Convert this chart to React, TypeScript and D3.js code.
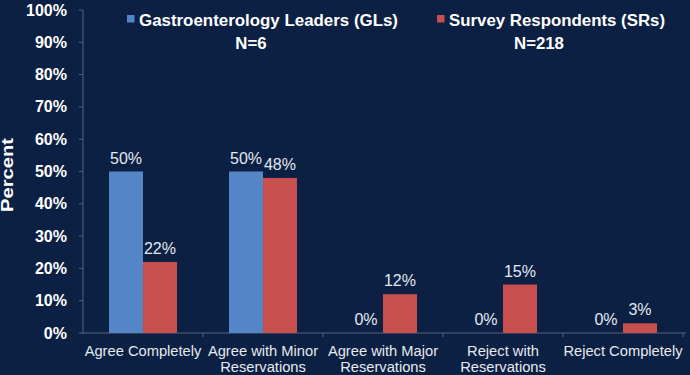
import React from "react";
import * as d3 from "d3";

const categories: string[][] = [
  ["Agree Completely"],
  ["Agree with Minor", "Reservations"],
  ["Agree with Major", "Reservations"],
  ["Reject with", "Reservations"],
  ["Reject Completely"],
];
const seriesNames = ["Gastroenterology Leaders (GLs)", "Survey Respondents (SRs)"];
const seriesN = ["N=6", "N=218"];
const glValues = [50, 50, 0, 0, 0];
const srValues = [22, 48, 12, 15, 3];
const yTicks = [0, 10, 20, 30, 40, 50, 60, 70, 80, 90, 100];

const W = 690;
const H = 375;
const BG = "#0b2042";
const BLUE = "#5485c6";
const RED = "#c7504e";
const AXIS = "#56657e";
const FONT = "'Liberation Sans', Arial, sans-serif";

export default function App() {
  const left = 83;
  const right = 683;
  const y0 = 333;
  const y100 = 10;
  const catKeys = categories.map((c) => c.join(" "));
  const x0 = d3.scaleBand<string>().domain(catKeys).range([left, right]).paddingInner(0).paddingOuter(0);
  const x1 = d3
    .scaleBand<string>()
    .domain(seriesNames)
    .range([0, x0.bandwidth()])
    .paddingInner(0)
    .paddingOuter(0.765);
  const y = d3.scaleLinear().domain([0, 100]).range([y0, y100]);
  const seriesValues = [glValues, srValues];
  const colors = [BLUE, RED];

  const legend = [
    { sq: 127, text: 139, nx: 251 },
    { sq: 437, text: 449, nx: 539 },
  ];
  const legendLens = [259, 216];

  return (
    <svg
      width={W}
      height={H}
      style={{ position: "absolute", left: 0, top: 0, display: "block" }}
      fontFamily={FONT}
    >
      <rect x={0} y={0} width={W} height={H} fill={BG} />

      {/* axes */}
      <line x1={left} x2={left} y1={y(100)} y2={y0} stroke={AXIS} strokeWidth={1} />
      <line x1={left} x2={686} y1={y0} y2={y0} stroke={AXIS} strokeWidth={1} />
      {yTicks.map((t) => (
        <g key={t}>
          <line x1={left - 4} x2={left} y1={y(t)} y2={y(t)} stroke={AXIS} />
          <text
            x={67}
            y={y(t) + 5.5}
            textAnchor="end"
            fill="#ffffff"
            fontWeight="bold"
            fontSize={16}
          >
            {t}%
          </text>
        </g>
      ))}
      {catKeys.map((c, i) => (
        <line
          key={"tk" + i}
          x1={(x0(c) as number) + x0.bandwidth()}
          x2={(x0(c) as number) + x0.bandwidth()}
          y1={y0}
          y2={y0 + 4}
          stroke={AXIS}
        />
      ))}

      <text
        transform={`translate(13,175) rotate(-90)`}
        textAnchor="middle"
        fill="#ffffff"
        fontWeight="bold"
        fontSize={16}
        textLength={74}
        lengthAdjust="spacingAndGlyphs"
      >
        Percent
      </text>

      {/* bars */}
      {catKeys.map((c, i) =>
        seriesNames.map((s, si) => {
          const v = seriesValues[si][i];
          const bx = (x0(c) as number) + (x1(s) as number);
          const bw = x1.bandwidth();
          return (
            <g key={c + s}>
              {v > 0 && (
                <rect x={bx} y={y(v)} width={bw} height={y0 - y(v)} fill={colors[si]} />
              )}
              <text
                x={bx + bw / 2}
                y={y(v) - 8}
                textAnchor="middle"
                fill="#e2e8f2"
                fontSize={16}
              >
                {v}%
              </text>
            </g>
          );
        })
      )}

      {/* category labels */}
      {categories.map((lines, i) => {
        const cx = (x0(catKeys[i]) as number) + x0.bandwidth() / 2;
        return (
          <text key={"cl" + i} textAnchor="middle" fill="#e6e9ee" fontSize={14.7}>
            {lines.map((ln, li) => (
              <tspan key={li} x={cx} y={356 + li * 15.5}>
                {ln}
              </tspan>
            ))}
          </text>
        );
      })}

      {/* legend */}
      {seriesNames.map((s, si) => (
        <g key={"lg" + s}>
          <rect x={legend[si].sq} y={15} width={7.5} height={7.5} fill={colors[si]} />
          <text
            x={legend[si].text}
            y={26}
            fill="#ffffff"
            fontWeight="bold"
            fontSize={16.8}
            textLength={legendLens[si]}
            lengthAdjust="spacingAndGlyphs"
          >
            {s}
          </text>
          <text
            x={legend[si].nx}
            y={48.5}
            textAnchor="middle"
            fill="#ffffff"
            fontWeight="bold"
            fontSize={16.8}
          >
            {seriesN[si]}
          </text>
        </g>
      ))}
    </svg>
  );
}
